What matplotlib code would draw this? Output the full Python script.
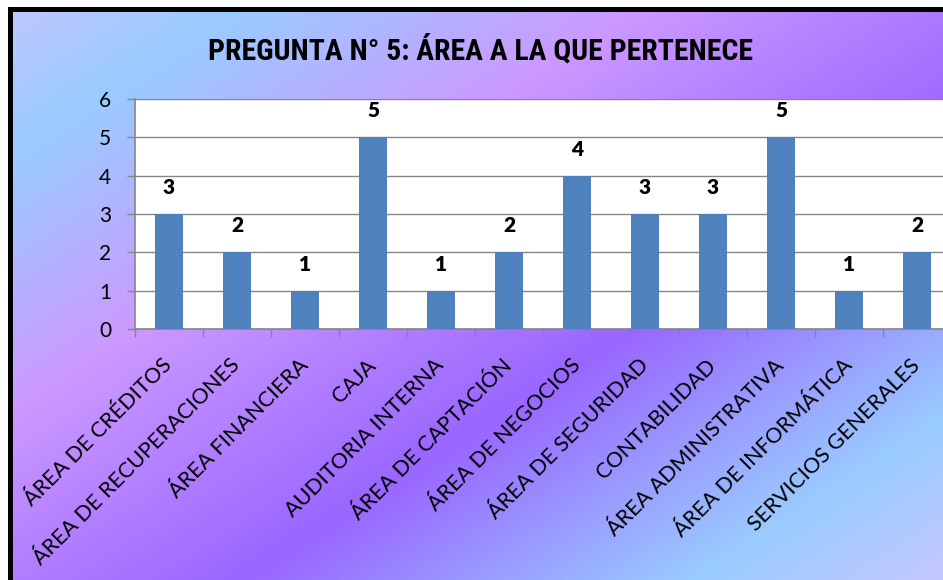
import numpy as np
import matplotlib
matplotlib.use("Agg")
import matplotlib.pyplot as plt
from matplotlib.colors import LinearSegmentedColormap
from matplotlib.patches import Rectangle
from matplotlib import font_manager

categories = ["ÁREA DE CRÉDITOS", "ÁREA DE RECUPERACIONES", "ÁREA FINANCIERA", "CAJA",
              "AUDITORIA INTERNA", "ÁREA DE CAPTACIÓN", "ÁREA DE NEGOCIOS", "ÁREA DE SEGURIDAD",
              "CONTABILIDAD", "ÁREA ADMINISTRATIVA", "ÁREA DE INFORMÁTICA", "SERVICIOS GENERALES"]
values = [3, 2, 1, 5, 1, 2, 4, 3, 3, 5, 1, 2]
yticks = [0, 1, 2, 3, 4, 5, 6]
title = "PREGUNTA N° 5: ÁREA A LA QUE PERTENECE"

W, H = 943, 580
fig = plt.figure(figsize=(W / 100, H / 100), dpi=100)
fig.patch.set_facecolor("white")

# background gradient (styling)
bg = fig.add_axes([0, 0, 1, 1], zorder=0)
bg.set_xlim(0, W)
bg.set_ylim(H, 0)
bg.axis("off")
xx, yy = np.meshgrid(np.arange(W) + 0.5, np.arange(H) + 0.5)
t = (xx + 1.56 * yy) / 1850.0
stops = [(0.0, "#c2c6ff"), (250 / 1850, "#99ccff"), (650 / 1850, "#cc99ff"),
         (1150 / 1850, "#9966ff"), (1600 / 1850, "#99ccff"), (1.0, "#c4c8ff")]
cmap = LinearSegmentedColormap.from_list("bgg", stops)
rgb = cmap(np.clip(t, 0, 1))[..., :3]
rgb[(xx < 8) | (yy < 7)] = 1.0
bg.imshow(rgb, extent=(0, W, H, 0), aspect="auto", interpolation="bilinear")
bg.add_patch(Rectangle((8, 7), 5, H - 7, color="black", lw=0))
bg.add_patch(Rectangle((8, 7), W - 8, 5, color="black", lw=0))

names = {f.name for f in font_manager.fontManager.ttflist}
title_fams = [f for f in ["Liberation Sans Narrow", "Roboto Condensed", "Roboto", "DejaVu Sans"] if f in names]
title_size = 20 if title_fams and title_fams[0] in ("Liberation Sans Narrow", "Roboto Condensed") else 17
title_size *= 1.07
tt = bg.text(480, 50, title, ha="center", va="center", fontsize=title_size, fontweight="bold",
             family=title_fams[:1] + ["DejaVu Sans"], fontstretch="condensed", color="black")

# main plot
ax = fig.add_axes([135 / W, (H - 329) / H, 816 / W, 230 / H], zorder=1)
ax.set_facecolor("white")
x = np.arange(len(categories))
ax.bar(x, values, width=0.4, color="#4f81bd", zorder=3)
ax.set_xlim(-0.5, len(categories) - 0.5)
ax.set_ylim(0, 6)
ax.set_yticks(yticks)
ax.yaxis.grid(True, color="#868686", lw=1.0, zorder=1)
for s in ["top", "right"]:
    ax.spines[s].set_visible(False)
for s in ["left", "bottom"]:
    ax.spines[s].set_color("#868686")
    ax.spines[s].set_linewidth(1.2)

fam = ["Lato", "DejaVu Sans"]
ax.tick_params(axis="y", length=6, width=1, color="#868686", pad=11, labelsize=15)
for lab in ax.get_yticklabels():
    lab.set_family(fam)

ax.set_xticks(np.arange(len(categories) + 1) - 0.5)
ax.set_xticklabels([])
ax.tick_params(axis="x", which="major", length=5.5, width=1, color="#868686")
ax.set_xticks(x, minor=True)
ax.set_xticklabels(categories, minor=True, rotation=45, ha="right", va="center",
                   rotation_mode="anchor", fontsize=15.5, family=fam)
ax.tick_params(axis="x", which="minor", length=0, pad=24)

for xi, v in zip(x, values):
    ax.annotate(str(v), (xi, v), xytext=(0, 19), textcoords="offset points",
                ha="center", va="center", fontsize=15, fontweight="heavy", family=fam,
                zorder=4)

fig.savefig("out.png", dpi=100)
